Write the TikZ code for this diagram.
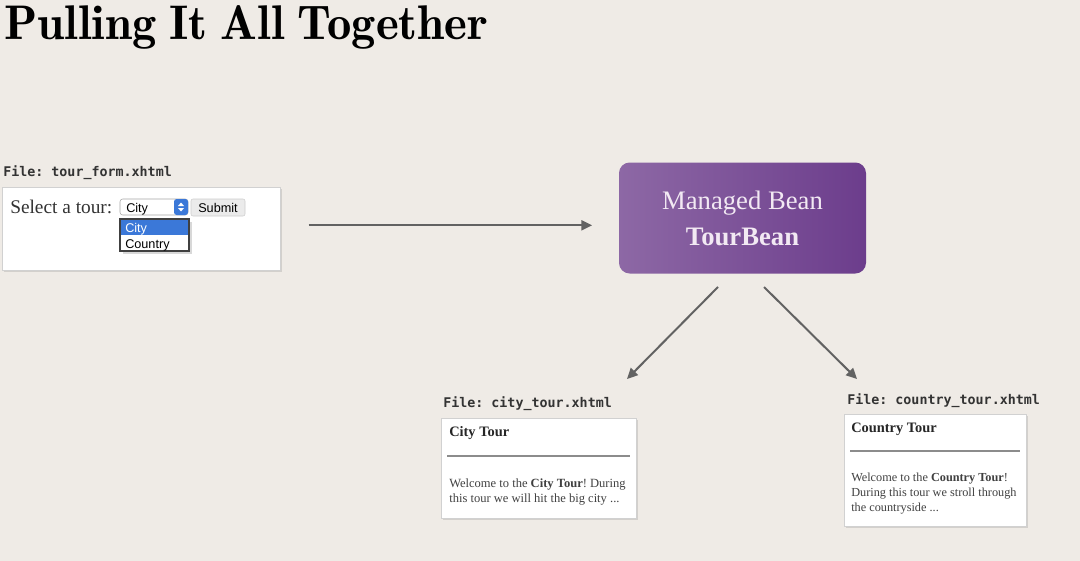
\documentclass[tikz,border=0pt]{standalone}
\usepackage{fontspec}
\usetikzlibrary{arrows.meta,shadows}
\newfontfamily\pagefont{Liberation Serif}
\newfontfamily\uifont{Liberation Sans}
\newfontfamily\codefont{DejaVu Sans Mono}
\newfontfamily\titlefont[WordSpace=0.8]{lmromandemi10-regular.otf}
\definecolor{slide}{HTML}{EFEBE6}
\definecolor{beanL}{HTML}{8D68A5}
\definecolor{beanR}{HTML}{6C3D8C}
\definecolor{beantext}{HTML}{F2E9F3}
\definecolor{arrgray}{HTML}{626262}
\definecolor{selblue}{HTML}{3B78D8}
\frenchspacing

\begin{document}
\begin{tikzpicture}[x=0.75pt, y=-0.75pt,
    pagebox/.style={draw=black!18, fill=white, anchor=north west, inner sep=0pt,
      drop shadow={opacity=0.25, shadow xshift=1pt, shadow yshift=-1pt}},
    filelabel/.style={anchor=base west, inner sep=0pt, font=\codefont\bfseries\fontsize{10}{12}\selectfont, text=black!80},
    arr/.style={draw=arrgray, line width=1.5pt, -{Triangle[length=8pt,width=7.5pt]}}]
    \useasboundingbox (0,0) rectangle (1080,560);
    \fill[slide] (-10,-10) rectangle (1090,570);
    \node[anchor=base west, inner sep=0pt, font=\titlefont\fontsize{36.5}{40}\selectfont] (title) at (4,40) {Pulling It All Together};

    \node[filelabel] (formlabel) at (3,176) {File: tour\_form.xhtml};
    \node[pagebox, minimum width=208.5pt, minimum height=62.25pt] (form) at (2,187) {};
    \node[anchor=base west, inner sep=0pt, font=\pagefont\fontsize{14.5}{16}\selectfont, text=black!80] (select) at (10,213) {Select a tour:};
    \draw[draw=black!35, fill=white, rounded corners=2pt] (120,199) rectangle (188,215);
    \fill[selblue, rounded corners=2pt] (174,199) rectangle (188,215);
    \fill[white] (178,206) -- (181,202.5) -- (184,206) -- cycle (178,208) -- (181,211.5) -- (184,208) -- cycle;
    \node[anchor=base west, inner sep=0pt, font=\uifont\fontsize{9.5}{11}\selectfont] (cityopt) at (126,212) {City};
    \node[draw=black!20, fill=black!8, rounded corners=1.5pt, minimum width=40.5pt, minimum height=12.75pt, inner sep=0pt,
      font=\uifont\fontsize{9.5}{11}\selectfont] (submit) at (218,207.5) {Submit};
    \draw[draw=black!75, fill=white, line width=0.8pt, drop shadow={opacity=0.3}] (120,219) rectangle (189,251);
    \fill[selblue] (121,220) rectangle (188,235);
    \node[anchor=base west, inner sep=0pt, font=\uifont\fontsize{9.5}{11}\selectfont, text=white] (listcity) at (125,232) {City};
    \node[anchor=base west, inner sep=0pt, font=\uifont\fontsize{9.5}{11}\selectfont] (listcountry) at (125,248) {Country};

    \node[rounded corners=8pt, left color=beanL, right color=beanR, minimum width=185.25pt, minimum height=83.25pt,
      align=center, text=beantext, font=\pagefont\fontsize{20}{27}\selectfont] (bean) at (742.5,218)
      {Managed Bean\\\bfseries TourBean};

    \node[filelabel] (citylabel) at (443,407) {File: city\_tour.xhtml};
    \node[pagebox, minimum width=146.25pt, minimum height=75pt] (city) at (441,418) {};
    \node[anchor=base west, inner sep=0pt, font=\pagefont\bfseries\fontsize{10.8}{13}\selectfont, text=black!85] (cityhead) at (449,436) {City Tour};
    \draw[black!45, line width=1.2pt] (447,456) -- (630,456);
    \node[anchor=north west, inner sep=0pt, align=left, font=\pagefont\fontsize{9.4}{11.2}\selectfont, text=black!75] (citytext) at (449,479)
      {Welcome to the \textbf{City Tour}! During\\this tour we will hit the big city ...};

    \node[filelabel] (countrylabel) at (847,404) {File: country\_tour.xhtml};
    \node[pagebox, minimum width=136.5pt, minimum height=84pt] (country) at (844,414) {};
    \node[anchor=base west, inner sep=0pt, font=\pagefont\bfseries\fontsize{10.8}{13}\selectfont, text=black!85] (countryhead) at (851,432) {Country Tour};
    \draw[black!45, line width=1.2pt] (850,451) -- (1020,451);
    \node[anchor=north west, inner sep=0pt, align=left, font=\pagefont\fontsize{9.2}{11.2}\selectfont, text=black!75] (countrytext) at (851,473)
      {Welcome to the \textbf{Country Tour}!\\During this tour we stroll through\\the countryside ...};

    \coordinate (beanout1) at (718,287);
    \coordinate (beanout2) at (764,287);
    \coordinate (cityin) at (627,379);
    \coordinate (countryin) at (857,379);
    \draw[arr, shorten <=21pt, shorten >=20pt] ([yshift=2.6pt]form.east) -- ([yshift=2.6pt]form.east -| bean.west);
    \draw[arr] (beanout1) -- (cityin);
    \draw[arr] (beanout2) -- (countryin);
  \end{tikzpicture}
\end{document}
